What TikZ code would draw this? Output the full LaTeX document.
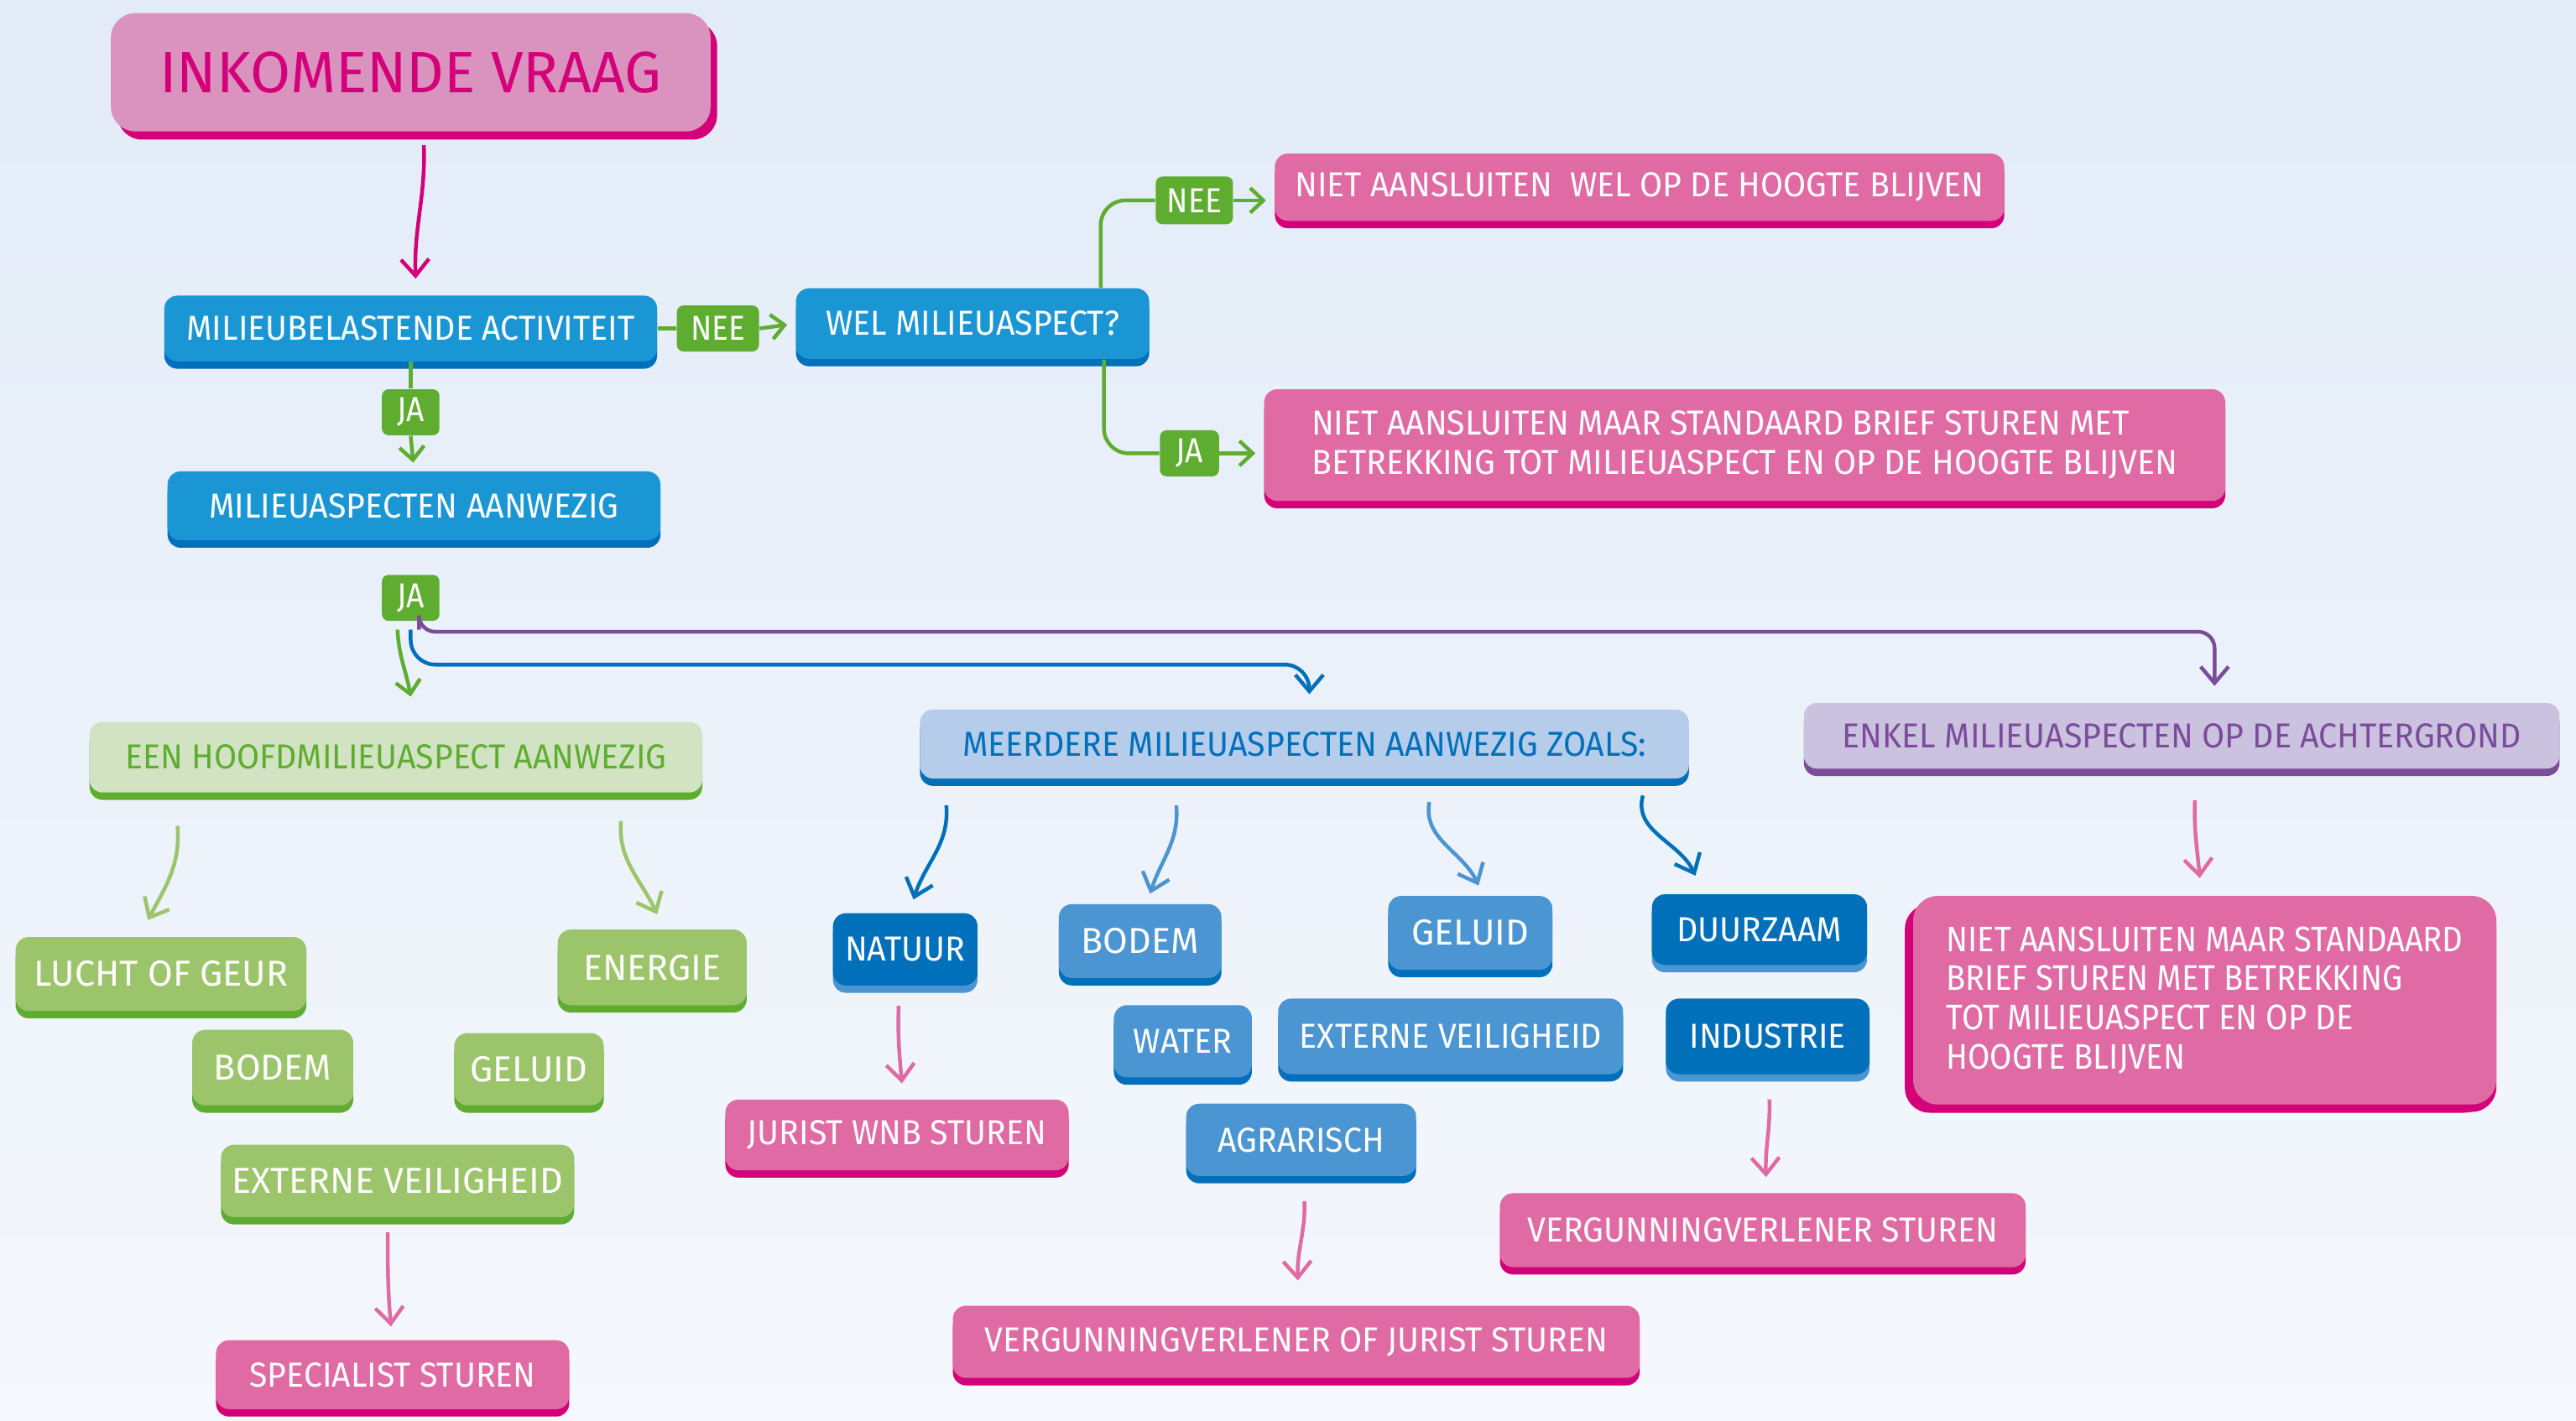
\documentclass[tikz,border=0pt]{standalone}
\usepackage{fontspec}
\newfontfamily\handfont[FakeStretch=0.95]{Fira Sans}
\newfontfamily\ronderHand[FakeStretch=0.9]{Fira Sans}
\newfontfamily\breedHand{Fira Sans}
\usepackage{tikz}
\usetikzlibrary{arrows.meta, calc, shadows}
\usepackage{xcolor}

\definecolor{bgTop}{HTML}{E2EBF7}
\definecolor{bgBot}{HTML}{F5F8FD}
\definecolor{titelRoze}{HTML}{D993BE}
\definecolor{framboos}{HTML}{D4007A}
\definecolor{roze}{HTML}{E06AA3}
\definecolor{blauw}{HTML}{1B96D4}
\definecolor{donkerBlauw}{HTML}{0070BB}
\definecolor{middenBlauw}{HTML}{4A95D2}
\definecolor{lichtBlauw}{HTML}{B5CDEA}
\definecolor{groen}{HTML}{5FAD30}
\definecolor{middenGroen}{HTML}{9BC46B}
\definecolor{lichtGroen}{HTML}{D1E3C3}
\definecolor{paars}{HTML}{7B4C9A}
\definecolor{lichtPaars}{HTML}{CBC2E0}

\newcommand\boxfont{\handfont\fontsize{12}{13.6}\selectfont}
\newcommand\itemfont{\breedHand\fontsize{12.5}{14}\selectfont}
\newcommand\brieffont{\ronderHand\fontsize{12.3}{13.6}\selectfont}
\newcommand\tagfont{\ronderHand\fontsize{12}{13}\selectfont}
\newcommand\vraagfont{\breedHand\fontsize{20.2}{22}\selectfont}

\tikzset{
    box/.style={rounded corners=1.6mm, inner sep=0pt, text=white, font=\boxfont,
        minimum height=8.6mm},
    bluebox/.style={box, fill=blauw, general shadow={fill=donkerBlauw, shadow yshift=-0.9mm}},
    darkbox/.style={box, fill=donkerBlauw, general shadow={fill=middenBlauw, shadow yshift=-0.9mm}},
    midbox/.style={box, fill=middenBlauw, general shadow={fill=donkerBlauw, shadow yshift=-0.9mm}},
    greenbox/.style={box, font=\itemfont, fill=middenGroen, general shadow={fill=groen, shadow yshift=-0.9mm}},
    pinkbox/.style={box, fill=roze, general shadow={fill=framboos, shadow yshift=-0.9mm}},
    tag/.style={rounded corners=0.8mm, inner sep=0pt, fill=groen, text=white, font=\tagfont,
        minimum width=7mm, minimum height=5.6mm},
    greenline/.style={draw=groen, line width=1.3pt},
    greenarrow/.style={greenline, -{Straight Barb[length=1.6mm, width=3mm]}},
    lgreenarrow/.style={draw=middenGroen, line width=1.3pt, -{Straight Barb[length=2mm, width=3.4mm]}},
    pinkarrow/.style={draw=roze, line width=1.3pt, -{Straight Barb[length=2mm, width=3.4mm]}},
    bluearrow/.style={draw=donkerBlauw, line width=1.3pt, -{Straight Barb[length=2mm, width=3.4mm]}},
}

\begin{document}
\begin{tikzpicture}[x=0.2mm, y=0.2mm]
    % achtergrond
    \fill[top color=bgTop, bottom color=bgBot] (0,0) rectangle (1568,-865);
    \useasboundingbox (0,0) rectangle (1568,-865);

    % bovenste deel
    \node[box, fill=titelRoze, text=framboos, font=\vraagfont, rounded corners=3mm,
        minimum width=73mm, minimum height=14.4mm,
        general shadow={fill=framboos, shadow xshift=0.8mm, shadow yshift=-1mm}]
        (vraag) at (250,-44) {INKOMENDE VRAAG};
    \node[bluebox, minimum width=60mm, minimum height=8mm] (activiteit) at (250,-200) {MILIEUBELASTENDE ACTIVITEIT};
    \node[tag, minimum width=10mm] (nee1) at (437,-200) {NEE};
    \node[bluebox, minimum width=43mm] (wel) at (592,-197) {WEL MILIEUASPECT?};
    \node[tag, minimum width=9.4mm, minimum height=5.8mm] (nee2) at (727,-122) {NEE};
    \node[pinkbox, minimum width=88.8mm, minimum height=8.2mm] (niet1) at (998,-114) {NIET AANSLUITEN\ \ WEL OP DE HOOGTE BLIJVEN};
    \node[tag, minimum width=7.2mm] (ja3) at (724,-276) {JA};
    \node[pinkbox, minimum width=117mm, minimum height=13.6mm, align=left] (niet2) at (1062,-271)
        {NIET AANSLUITEN MAAR STANDAARD BRIEF STUREN MET\\BETREKKING TOT MILIEUASPECT EN OP DE HOOGTE BLIJVEN};
    \node[tag] (ja1) at (250,-251) {JA};
    \node[bluebox, minimum width=60mm, minimum height=8.4mm] (aanwezig) at (252,-308) {MILIEUASPECTEN AANWEZIG};
    \node[tag] (ja2) at (250,-364) {JA};

    % drie takken
    \node[box, fill=lichtGroen, text=groen, minimum width=74.6mm,
        general shadow={fill=groen, shadow yshift=-0.9mm}] (hoofd) at (241,-461) {EEN HOOFDMILIEUASPECT AANWEZIG};
    \node[box, fill=lichtBlauw, text=donkerBlauw, minimum width=93.6mm, minimum height=8.4mm,
        general shadow={fill=donkerBlauw, shadow yshift=-0.9mm}] (meerdere) at (794,-453) {MEERDERE MILIEUASPECTEN AANWEZIG ZOALS:};
    \node[box, fill=lichtPaars, text=paars, minimum width=92mm, minimum height=8mm,
        general shadow={fill=paars, shadow yshift=-0.9mm}] (enkel) at (1328,-448) {ENKEL MILIEUASPECTEN OP DE ACHTERGROND};

    % hoofdmilieuaspect
    \node[greenbox, minimum width=35.4mm, minimum height=9mm] (lucht) at (98,-593) {LUCHT OF GEUR};
    \node[greenbox, minimum width=23mm, minimum height=9.2mm] (energie) at (397,-589) {ENERGIE};
    \node[greenbox, minimum width=19.6mm, minimum height=9.2mm] (bodemG) at (166,-650) {BODEM};
    \node[greenbox, minimum width=18.2mm, minimum height=8.8mm] (geluidG) at (322,-651) {GELUID};
    \node[greenbox, minimum width=43mm, minimum height=8.8mm] (externG) at (242,-719) {EXTERNE VEILIGHEID};
    \node[pinkbox, minimum width=43mm, minimum height=8.4mm] (specialist) at (239,-837) {SPECIALIST STUREN};

    % meerdere milieuaspecten
    \node[darkbox, minimum width=17.6mm, minimum height=8.8mm] (natuur) at (551,-578) {NATUUR};
    \node[midbox, font=\itemfont, minimum width=19.8mm, minimum height=9mm] (bodemB) at (694,-573) {BODEM};
    \node[midbox, font=\itemfont, minimum width=20mm, minimum height=9mm] (geluidB) at (895,-568) {GELUID};
    \node[darkbox, minimum width=26.2mm] (duurzaam) at (1071,-566) {DUURZAAM};
    \node[midbox, minimum width=16.8mm, minimum height=8.8mm] (water) at (720,-634) {WATER};
    \node[midbox, minimum width=42mm, minimum height=9.2mm] (externB) at (883,-631) {EXTERNE VEILIGHEID};
    \node[darkbox, minimum width=24.8mm, minimum height=9.2mm] (industrie) at (1076,-631) {INDUSTRIE};
    \node[midbox, minimum width=28mm, minimum height=8.8mm] (agrarisch) at (792,-694) {AGRARISCH};
    \node[pinkbox, minimum width=41.8mm] (jurist) at (546,-691) {JURIST WNB STUREN};
    \node[pinkbox, minimum width=83.6mm, minimum height=8.8mm] (verglOfJurist) at (789,-817) {VERGUNNINGVERLENER OF JURIST STUREN};
    \node[pinkbox, minimum width=64mm, minimum height=9mm] (vergl) at (1073,-749) {VERGUNNINGVERLENER STUREN};

    % achtergrond
    \node[pinkbox, font=\brieffont, rounded corners=3mm, minimum width=71mm, minimum height=25.4mm, align=left,
        general shadow={fill=framboos, shadow xshift=-1mm, shadow yshift=-1mm}] (niet3) at (1342,-609)
        {NIET AANSLUITEN MAAR STANDAARD\\BRIEF STUREN MET BETREKKING\\TOT MILIEUASPECT EN OP DE\\HOOGTE BLIJVEN};

    % verbindingen boven
    \draw[pinkarrow, draw=framboos] ([xshift=1.6mm, yshift=-1.6mm]vraag.south) to[out=-88, in=92] ([xshift=0.6mm, yshift=2mm]activiteit.north);
    \draw[greenline] (activiteit.east) -- (nee1.west);
    \draw[greenarrow, shorten >=1mm] (nee1.east) -- (wel.west);
    \draw[greenline, rounded corners=3mm] ([xshift=15.6mm]wel.north) |- (nee2.west);
    \draw[greenarrow, shorten >=1mm] (nee2.east) -- (nee2.east -| niet1.west);
    \draw[greenline, rounded corners=3mm] ([xshift=16mm]wel.south) |- (ja3.west);
    \draw[greenarrow, shorten >=1mm] (ja3.east) -- (ja3.east -| niet2.west);
    \draw[greenline] (activiteit.south) -- (ja1.north);
    \draw[greenarrow, shorten >=1mm] (ja1.south) -- (aanwezig.north);

    % vanuit ja
    \draw[greenarrow] ([xshift=-1.6mm, yshift=-1mm]ja2.south) to[out=-88, in=100] ([xshift=1.8mm, yshift=3mm]hoofd.north);
    \draw[paars, line width=1.3pt, rounded corners=2mm, -{Straight Barb[length=2mm, width=3.4mm]}, shorten >=2mm]
        ([xshift=1mm, yshift=-1mm]ja2.south) |- ([xshift=4mm, yshift=8.6mm]enkel.north) -- ([xshift=4mm]enkel.north);
    \draw[bluearrow, rounded corners=3mm, shorten >=1.8mm]
        ([yshift=-1mm]ja2.south) |- ([xshift=0.6mm, yshift=5.4mm]meerdere.north) -- ([xshift=0.6mm]meerdere.north);

    % pijlen hoofdmilieuaspect
    \draw[lgreenarrow] ([xshift=-26.6mm, yshift=-4mm]hoofd.south) to[out=-85, in=62] ([xshift=-1.6mm, yshift=2mm]lucht.north);
    \draw[lgreenarrow] ([xshift=27.4mm, yshift=-3.4mm]hoofd.south) to[out=-95, in=115] ([xshift=0.6mm, yshift=1.8mm]energie.north);
    \draw[pinkarrow] ([xshift=-1.2mm, yshift=-1.8mm]externG.south) to[out=-90, in=95] ([xshift=-0.2mm, yshift=1.6mm]specialist.north);

    % pijlen meerdere
    \draw[bluearrow] ([xshift=-43.6mm, yshift=-3.2mm]meerdere.south) to[out=-85, in=72] ([xshift=1mm, yshift=1.6mm]natuur.north);
    \draw[bluearrow, draw=middenBlauw] ([xshift=-15.6mm, yshift=-3.2mm]meerdere.south) to[out=-85, in=72] ([xshift=1.2mm, yshift=1.2mm]bodemB.north);
    \draw[bluearrow, draw=middenBlauw] ([xshift=15.2mm, yshift=-2.8mm]meerdere.south) to[out=-100, in=115] ([xshift=1mm, yshift=1.2mm]geluidB.north);
    \draw[bluearrow] ([xshift=41.2mm, yshift=-2mm]meerdere.south) to[out=-105, in=115] ([xshift=-7.8mm, yshift=2.2mm]duurzaam.north);
    \draw[pinkarrow] ([xshift=-0.8mm, yshift=-2.4mm]natuur.south) to[out=-92, in=95] ([xshift=0.6mm, yshift=1.9mm]jurist.north);
    \draw[pinkarrow] ([xshift=0.4mm, yshift=-3mm]agrarisch.south) to[out=-88, in=92] ([xshift=0.2mm, yshift=3mm]verglOfJurist.north);
    \draw[pinkarrow] ([xshift=0.2mm, yshift=-3mm]industrie.south) to[out=-88, in=92] ([xshift=0.4mm, yshift=1.9mm]vergl.north);
    \draw[pinkarrow] ([xshift=1.6mm, yshift=-3.8mm]enkel.south) to[out=-92, in=95] ([xshift=-0.6mm, yshift=2.1mm]niet3.north);
\end{tikzpicture}
\end{document}
